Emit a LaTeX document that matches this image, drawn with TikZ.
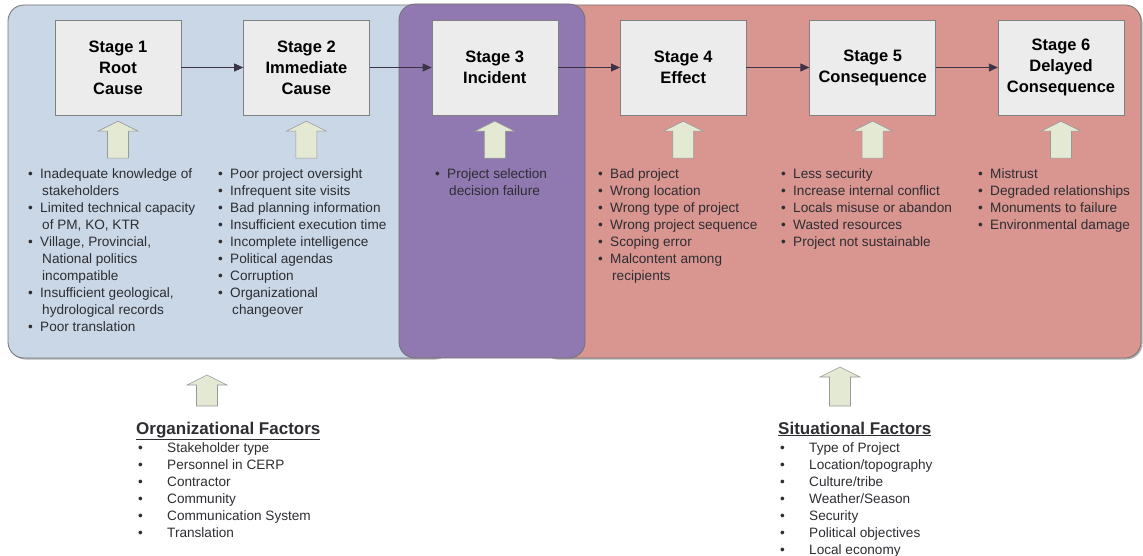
\documentclass[tikz,border=0pt]{standalone}
\usepackage{fontspec}
\setmainfont{Liberation Sans}
\usetikzlibrary{arrows.meta,positioning}
\definecolor{causeblue}{RGB}{201,215,231}
\definecolor{incidentpurple}{RGB}{143,121,176}
\definecolor{effectred}{RGB}{217,149,144}
\definecolor{boxgray}{RGB}{236,236,236}
\definecolor{arrowfill}{RGB}{228,233,212}
\definecolor{flowline}{RGB}{60,52,70}
\definecolor{textgray}{RGB}{45,45,50}
% bullet lists: bullet column + text column
\newenvironment{stagelist}{\begin{tabular}[t]{@{}p{12pt}@{}l@{}}}{\end{tabular}}
\newenvironment{factorlist}{\begin{tabular}[t]{@{}p{31pt}@{}l@{}}}{\end{tabular}}
\newcommand{\li}{\textbullet &}
\newcommand{\lc}{& \hspace{2pt}}
\newcommand{\fli}{\hspace{2pt}\textbullet &}
\tikzset{
  region/.style={draw=black!55, line width=0.8pt, rounded corners=16pt},
  stagebox/.style={draw=black!50, fill=boxgray, minimum width=126pt, minimum height=95pt,
    inner sep=0pt, align=center, font=\fontsize{16.5}{21}\selectfont\bfseries},
  flow/.style={draw=flowline, line width=0.9pt, -{Triangle[length=9pt,width=8pt]}},
  itemlist/.style={anchor=base west, inner sep=0pt, font=\fontsize{13.6}{17}\selectfont, text=textgray},
  factorhead/.style={anchor=base west, inner sep=0pt, font=\fontsize{17}{20}\selectfont\bfseries, text=textgray},
  pics/uparrow/.style={code={
    \draw[draw=black!40, fill=arrowfill, line width=0.6pt]
      (-10.5,0) -- (-10.5,-#1+10) -- (-20,-#1+10) -- (0,-#1) -- (20,-#1+10) -- (10.5,-#1+10) -- (10.5,0) -- cycle;}}
}
\begin{document}
\begin{tikzpicture}[x=1pt,y=-1pt]
\useasboundingbox (0,0) rectangle (1143,556);

% background bands
\fill[black!30, rounded corners=16pt] (9.5,6.5) rectangle (451.5,359.5);
\draw[region, fill=causeblue] (8,5) rectangle (450,358);
\fill[black!30, rounded corners=16pt] (541.5,6.5) rectangle (1142.5,359.5);
\draw[region, fill=effectred] (540,5) rectangle (1141,358);
\draw[region, fill=incidentpurple] (399,4) rectangle (585,358);

% stages
\node[stagebox] (s1) at (118,67.5) {Stage 1\\Root\\Cause};
\node[stagebox, right=62pt of s1] (s2) {Stage 2\\Immediate\\Cause};
\node[stagebox, right=62pt of s2] (s3) {Stage 3\\Incident};
\node[stagebox, right=62pt of s3] (s4) {Stage 4\\Effect};
\node[stagebox, right=63pt of s4] (s5) {Stage 5\\Consequence};
\node[stagebox, right=62pt of s5] (s6) {Stage 6\\Delayed\\Consequence};

\draw[flow] (s1) -- (s2);
\draw[flow] (s2) -- (s3);
\draw[flow] (s3) -- (s4);
\draw[flow] (s4) -- (s5);
\draw[flow] (s5) -- (s6);

% block arrows under the stages
\path (s1.south) ++(0,43) pic {uparrow=37};
\path (s2.south) ++(0,43) pic {uparrow=37};
\path (s3.south) ++(0,43) pic {uparrow=37};
\path (s4.south) ++(0,43) pic {uparrow=37};
\path (s5.south) ++(0,43) pic {uparrow=37};
\path (s6.south) ++(0,43) pic {uparrow=37};

% lists under the stages
\node[itemlist] (l1) at (28,179) {\begin{stagelist}
  \li Inadequate knowledge of\\ \lc stakeholders\\
  \li Limited technical capacity\\ \lc of PM, KO, KTR\\
  \li Village, Provincial,\\ \lc National politics\\ \lc incompatible\\
  \li Insufficient geological,\\ \lc hydrological records\\
  \li Poor translation
\end{stagelist}};
\node[itemlist] (l2) at (218,179) {\begin{stagelist}
  \li Poor project oversight\\
  \li Infrequent site visits\\
  \li Bad planning information\\
  \li Insufficient execution time\\
  \li Incomplete intelligence\\
  \li Political agendas\\
  \li Corruption\\
  \li Organizational\\ \lc changeover
\end{stagelist}};
\node[itemlist] (l3) at (435,179) {\begin{stagelist}
  \li Project selection\\ \lc decision failure
\end{stagelist}};
\node[itemlist] (l4) at (598,179) {\begin{stagelist}
  \li Bad project\\
  \li Wrong location\\
  \li Wrong type of project\\
  \li Wrong project sequence\\
  \li Scoping error\\
  \li Malcontent among\\ \lc recipients
\end{stagelist}};
\node[itemlist] (l5) at (781,179) {\begin{stagelist}
  \li Less security\\
  \li Increase internal conflict\\
  \li Locals misuse or abandon\\
  \li Wasted resources\\
  \li Project not sustainable
\end{stagelist}};
\node[itemlist] (l6) at (978,179) {\begin{stagelist}
  \li Mistrust\\
  \li Degraded relationships\\
  \li Monuments to failure\\
  \li Environmental damage
\end{stagelist}};

% factors below the bands
\path (207,406) pic {uparrow=31};
\path (840,406) pic {uparrow=39};

\node[factorhead] (orghead) at (136,434) {\underline{Organizational Factors}};
\node[itemlist] (orglist) at (136,452) {\begin{factorlist}
  \fli Stakeholder type\\
  \fli Personnel in CERP\\
  \fli Contractor\\
  \fli Community\\
  \fli Communication System\\
  \fli Translation
\end{factorlist}};

\node[factorhead] (sithead) at (778,434) {\underline{Situational Factors}};
\node[itemlist] (sitlist) at (778,452) {\begin{factorlist}
  \fli Type of Project\\
  \fli Location/topography\\
  \fli Culture/tribe\\
  \fli Weather/Season\\
  \fli Security\\
  \fli Political objectives\\
  \fli Local economy
\end{factorlist}};
\end{tikzpicture}
\end{document}
